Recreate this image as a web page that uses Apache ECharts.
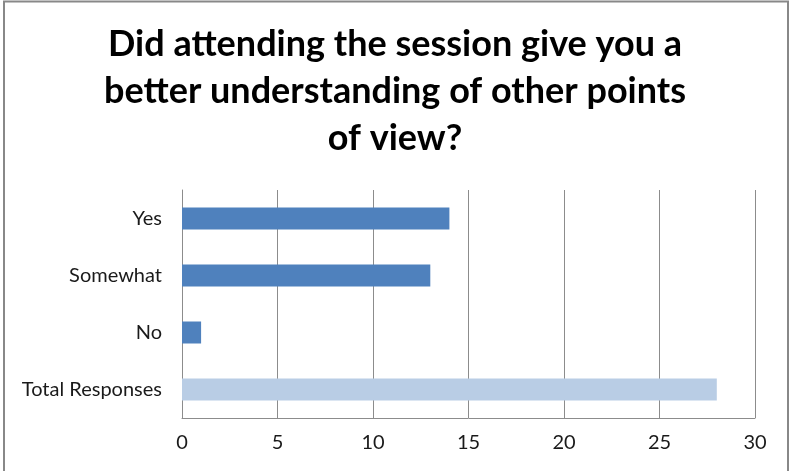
<!DOCTYPE html>
<html>
<head>
<meta charset="utf-8">
<script src="https://cdn.jsdelivr.net/npm/echarts@6/dist/echarts.min.js"></script>
<style>html,body{margin:0;padding:0;background:#fff}#c{width:790px;height:471px}</style>
</head>
<body>
<div id="c"></div>
<script>
const categories = ['Yes', 'Somewhat', 'No', 'Total Responses'];
const values = [14, 13, 1, 28];
const barColors = ['#4F81BD', '#4F81BD', '#4F81BD', '#B9CDE5'];
const titleText = 'Did attending the session give you a\nbetter understanding of other points\nof view?';

const chart = echarts.init(document.getElementById('c'), null, {renderer: 'canvas'});
chart.setOption({
  animation: false,
  backgroundColor: '#fff',
  graphic: [{
    type: 'rect', shape: {x: 4, y: 1.5, width: 784, height: 480},
    style: {fill: 'none', stroke: '#888', lineWidth: 2}, silent: true
  }, {
    type: 'text', x: 395, y: 21, silent: true,
    style: {
      text: titleText, align: 'center', verticalAlign: 'top',
      fontFamily: 'Lato', fontWeight: 'bold', fontSize: 36, lineHeight: 47, fill: '#000'
    }
  }],
  grid: {left: 182, right: 35, top: 190, bottom: 53, containLabel: false},
  xAxis: {
    type: 'value', min: 0, max: 30, interval: 5,
    axisLine: {show: true, lineStyle: {color: '#8c8c8c', width: 1}},
    axisTick: {show: false},
    splitLine: {show: true, lineStyle: {color: '#8c8c8c', width: 1}},
    axisLabel: {margin: 15, fontFamily: 'Lato', fontSize: 20, color: '#1a1a1a'}
  },
  yAxis: {
    type: 'category', data: categories, inverse: true,
    axisLine: {show: true, lineStyle: {color: '#8c8c8c', width: 1}},
    axisTick: {show: false},
    axisLabel: {margin: 20, fontFamily: 'Lato', fontSize: 20, color: '#1a1a1a'}
  },
  series: [{
    type: 'bar',
    barWidth: 22,
    data: values.map((v, i) => ({value: v, itemStyle: {color: barColors[i]}}))
  }]
});
</script>
</body>
</html>
